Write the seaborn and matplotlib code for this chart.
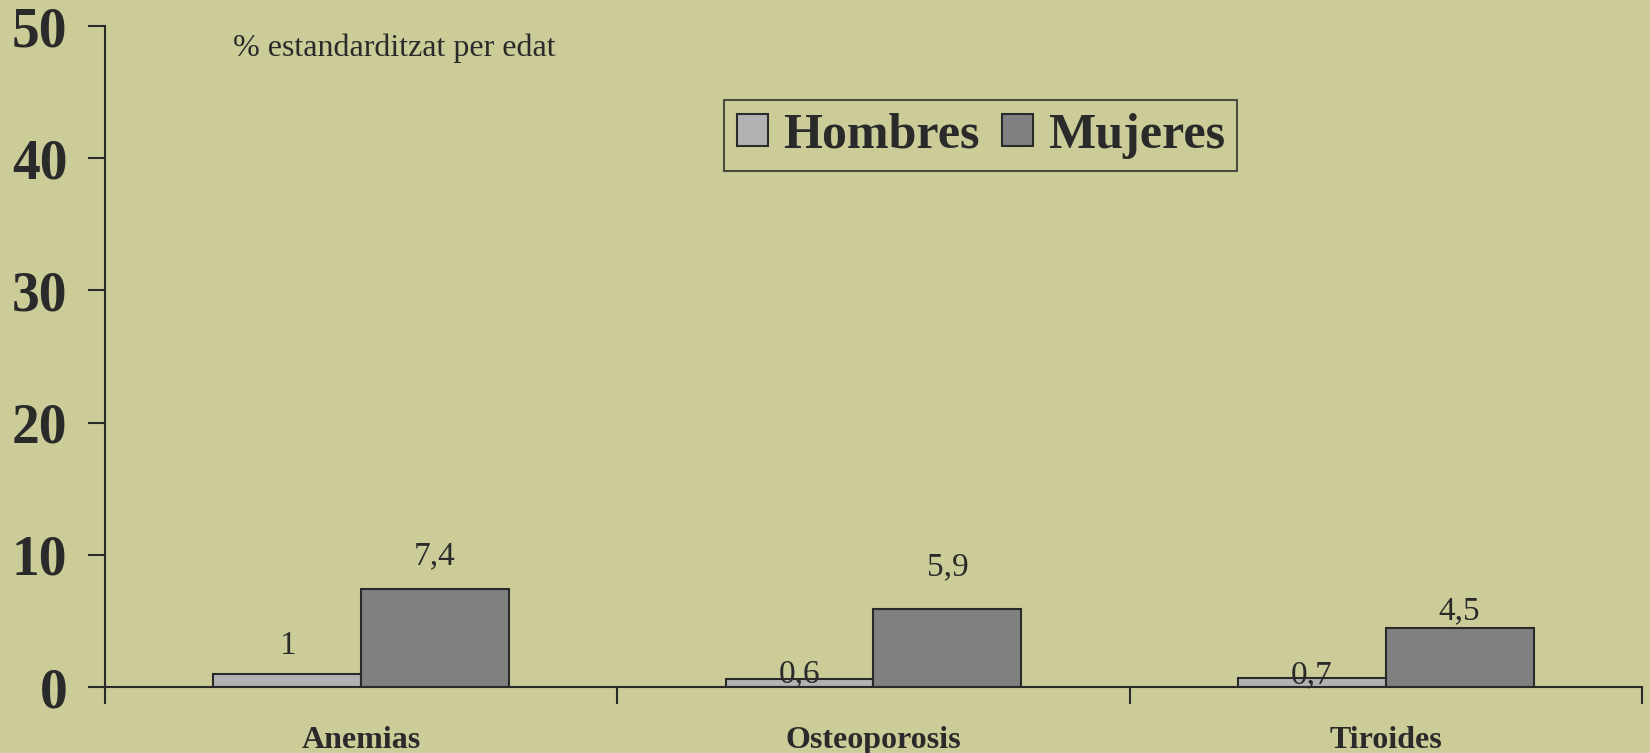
import pandas as pd
import matplotlib
matplotlib.use('Agg')
import matplotlib.pyplot as plt
import seaborn as sns

categorias = ['Anemias', 'Osteoporosis', 'Tiroides']
hombres = [1.0, 0.6, 0.7]
mujeres = [7.4, 5.9, 4.5]
etiquetas_h = ['1', '0,6', '0,7']
etiquetas_m = ['7,4', '5,9', '4,5']
y_ticks = [0, 10, 20, 30, 40, 50]

df = pd.DataFrame({
    'Categoria': categorias * 2,
    'Valor': hombres + mujeres,
    'Sexo': ['Hombres'] * 3 + ['Mujeres'] * 3,
})

fondo = '#CCCC99'
texto = '#2a2a2a'

sns.set_style('ticks')
plt.rcParams['font.family'] = ['Liberation Serif', 'DejaVu Serif']

fig = plt.figure(figsize=(16.5, 7.53), dpi=100, facecolor=fondo)
ax = fig.add_axes([0.0636, 0.0876, 0.9315, 0.8778])
ax.set_facecolor(fondo)

sns.barplot(data=df, x='Categoria', y='Valor', hue='Sexo',
            palette=['#B2B2B2', '#808080'], width=0.577,
            edgecolor='#2a2a2a', linewidth=1.5, ax=ax, legend=True)

# etiquetas de valor (desplazamiento en puntos sobre la barra)
offsets = [[20, 4, 2], [24, 30, 12]]
for cont, etiq, offs in zip(ax.containers, [etiquetas_h, etiquetas_m], offsets):
    for barra, t, o in zip(cont, etiq, offs):
        ax.annotate(t, (barra.get_x() + barra.get_width() / 2, barra.get_height()),
                    xytext=(0, o), textcoords='offset points', ha='center', va='center',
                    fontsize=24, color=texto)

ax.set_ylim(0, 50)
ax.set_xlim(-0.5, 2.5)
ax.set_yticks(y_ticks)
ax.set_yticklabels([str(v) for v in y_ticks], fontsize=40, fontweight='bold', color=texto)
ax.tick_params(axis='y', length=12, width=1.5, color=texto, pad=15)

ax.set_xticks(range(len(categorias)))
ax.set_xticklabels(categorias, fontsize=23, fontweight='bold', color=texto)
ax.tick_params(axis='x', which='major', length=0, pad=28)
ax.set_xticks([-0.5, 0.5, 1.5, 2.5], minor=True)
ax.tick_params(axis='x', which='minor', length=12, width=1.5, color=texto)

ax.set_xlabel('')
ax.set_ylabel('')
sns.despine(ax=ax)
for s in ['left', 'bottom']:
    ax.spines[s].set_linewidth(1.5)
    ax.spines[s].set_color(texto)

ax.text(0.083, 0.967, '% estandarditzat per edat', transform=ax.transAxes,
        fontsize=23, color=texto, va='center', ha='left')

leg = ax.legend(loc='upper left', bbox_to_anchor=(0.403, 0.888), borderaxespad=0,
                ncol=2, frameon=True, fancybox=False, facecolor=fondo, edgecolor=texto,
                prop={'size': 36, 'weight': 'bold'}, handlelength=0.62, handleheight=0.62,
                handletextpad=0.3, columnspacing=0.45, borderpad=0.25)
leg.get_frame().set_linewidth(1.5)
for t in leg.get_texts():
    t.set_color(texto)

fig.savefig('out.png', dpi=100, facecolor=fondo)
